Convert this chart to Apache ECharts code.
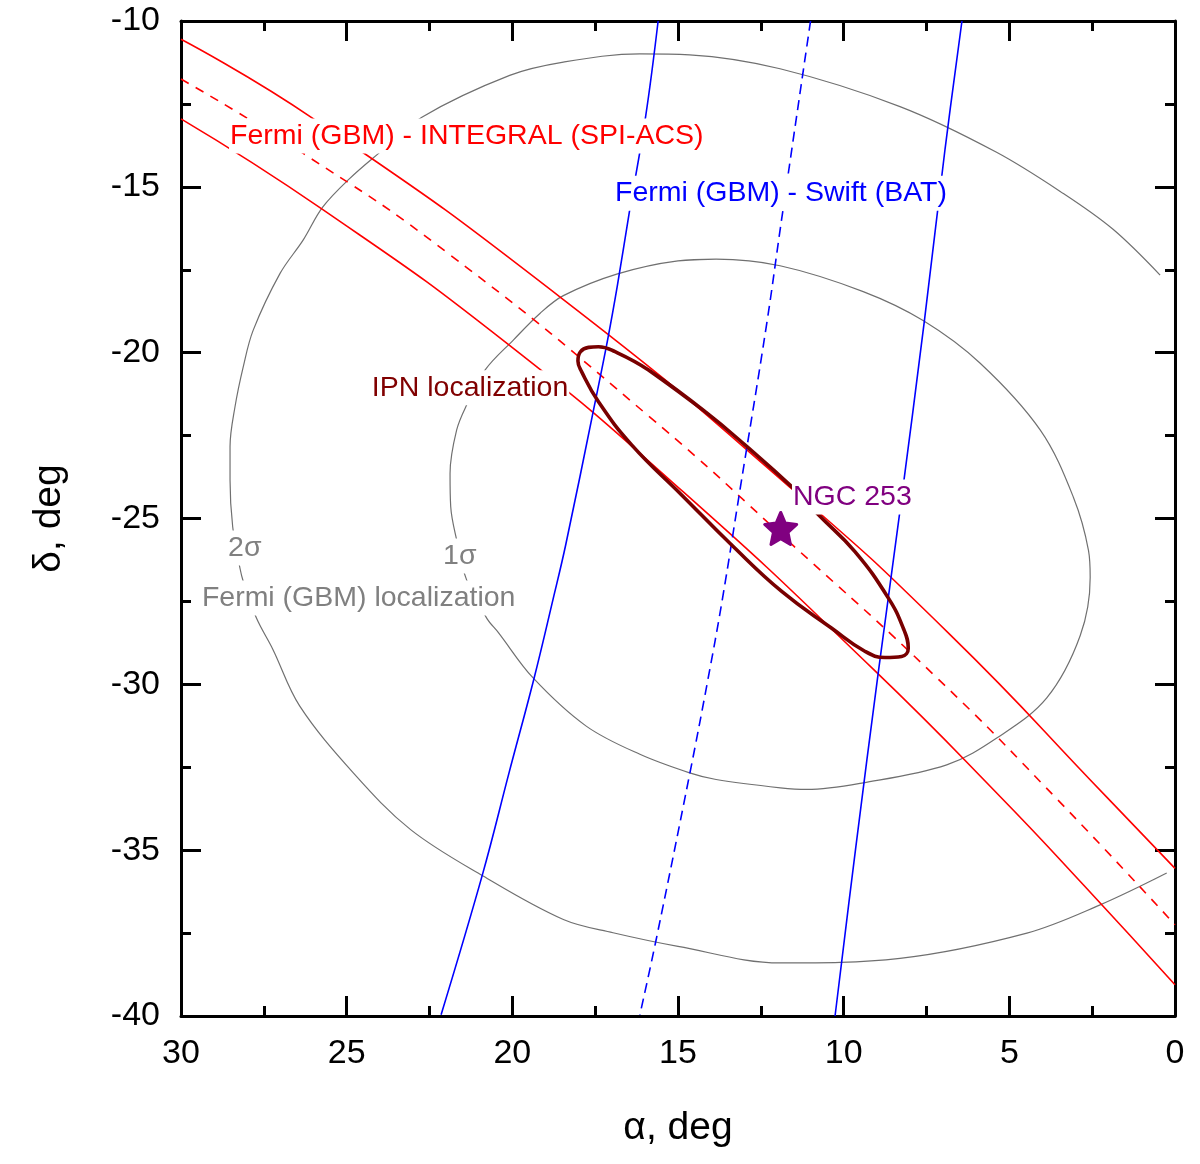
<!DOCTYPE html>
<html lang="en" style="height: 100%">
<head>
<meta charset="utf-8">
<title>IPN localization of GRB near NGC 253</title>
</head>
<body style="height: 100%; margin: 0; background: #fff">
<div id="container" style="height: 100%"></div>

<script type="text/javascript" src="https://cdn.jsdelivr.net/npm/echarts/dist/echarts.min.js"></script>

<script type="text/javascript">
var dom = document.getElementById('container');
var myChart = echarts.init(dom);

// all points are [alpha, delta] in degrees
var integralUpper = [[30, -10.55], [26.0, -12.95], [18.46, -18.4], [11.62, -24.06], [6.79, -28.5],
  [2.06, -33.4], [0, -35.55]];
var integralCenter = [[30, -11.75], [26.3, -14.0], [21.92, -17.02], [15.84, -21.95], [11.52, -25.82],
  [7.19, -29.8], [3.57, -33.45], [0, -37.25]];
var integralLower = [[30, -12.95], [25.73, -15.68], [20.19, -19.7], [14.84, -24.2], [9.1, -29.55],
  [5.28, -33.38], [2.76, -36.05], [0, -39.06]];

var swiftLeft = [[15.6, -10], [15.98, -12.9], [16.47, -15.77], [16.83, -17.98], [17.12, -19.59],
  [17.54, -21.68], [18.39, -25.8], [18.77, -27.43], [19.34, -29.8], [20.1, -32.67], [20.9, -35.73],
  [22.15, -39.96]];
var swiftCenter = [[11.0, -10], [11.9, -16.17], [12.32, -19.11], [13.13, -24.14], [13.66, -27.43],
  [14.1, -29.87], [14.64, -32.67], [15.66, -37.7], [16.15, -39.96]];
var swiftRight = [[6.43, -10], [6.94, -13.86], [7.56, -19.01], [8.3, -24.76], [8.95, -29.6],
  [9.64, -34.96], [10.26, -40]];

var gbm1sigma = [[13.85, -17.18], [15.0, -17.23], [16.85, -17.63], [18.46, -18.28], [19.16, -18.81],
  [19.97, -19.62], [20.82, -20.52], [21.38, -21.58], [21.68, -22.33], [21.88, -23.64], [21.86, -24.64],
  [21.68, -25.65], [21.38, -26.85], [20.77, -28.01], [20.42, -28.44], [19.38, -29.8], [17.77, -31.26],
  [16.15, -32.11], [14.65, -32.67], [13.85, -32.87], [11.91, -33.12], [11.11, -33.17], [9.41, -32.97],
  [6.89, -32.43], [5.38, -31.62], [3.87, -30.41], [2.86, -28.53], [2.56, -26.78], [2.61, -25.97],
  [3.07, -24.35], [4.07, -22.33], [5.88, -20.32], [7.59, -19.04], [9.41, -18.16], [11.92, -17.38],
  [13.85, -17.18], [15.0, -17.23]];
var gbm2sigma = [[0.45, -17.66], [1.87, -16.28], [3.37, -15.2], [5.4, -13.95], [8.3, -12.58],
  [11.92, -11.44], [14.65, -11.02], [16.15, -10.99], [18.46, -11.24], [20.08, -11.64], [22.73, -12.9],
  [24.0, -13.96], [24.92, -14.76], [25.73, -15.62], [26.31, -16.6], [27.01, -17.61], [27.82, -19.32],
  [28.12, -20.42], [28.37, -21.63], [28.52, -22.83], [28.52, -23.84], [28.44, -25.25], [28.22, -26.5],
  [28.12, -26.9], [27.72, -28.01], [27.23, -28.94], [26.42, -30.65], [24.8, -32.67], [23.07, -34.38],
  [20.88, -35.78], [18.46, -37.09], [16.96, -37.49], [15.0, -37.9], [11.91, -38.4], [8.3, -38.26],
  [4.47, -37.5], [2.26, -36.65], [0.25, -35.69]];

// IPN ellipse traced once round, with a little overlap so the join is smooth
var ipnEllipse = [[15.89, -20.52], [14.18, -21.78], [12.98, -22.78], [11.57, -24.04], [10.76, -24.89],
  [9.66, -26.0], [8.65, -27.4], [8.2, -28.31], [8.05, -28.91], [8.25, -29.16], [8.75, -29.19],
  [9.35, -29.01], [10.36, -28.31], [11.87, -27.2], [13.38, -25.8], [14.89, -24.29], [16.4, -22.78],
  [17.4, -21.48], [17.91, -20.57], [18.02, -20.25], [17.95, -19.98], [17.7, -19.84], [17.4, -19.82],
  [16.9, -19.97], [15.89, -20.52], [14.18, -21.78]];

var ngc253 = [[11.9, -25.3]];

var noteText = ['Fermi (GBM) - INTEGRAL (SPI-ACS)', 'Fermi (GBM) - Swift (BAT)', 'IPN localization',
  'NGC 253', '2σ', '1σ', 'Fermi (GBM) localization'];
var noteAt = [[28.55, -13.47], [16.93, -15.19], [24.27, -21.06], [11.56, -24.35], [28.61, -25.89],
  [22.12, -26.13], [29.4, -27.4]];

var font = 'Liberation Sans';
var noteColor = ['#ff0000', '#0000ff', '#800000', '#800080', '#808080', '#808080', '#808080'];

function curve(data, color, width, type, smooth, z) {
  return {
    type: 'line',
    data: data,
    showSymbol: false,
    smooth: smooth,
    silent: true,
    z: z,
    lineStyle: {color: color, width: width, type: type, opacity: 1}
  };
}

function frameAxis(extra) {
  var ax = {
    type: 'value',
    splitLine: {show: false},
    axisLine: {show: true, onZero: false, lineStyle: {color: '#000', width: 3}},
    axisTick: {show: true, inside: true, length: 20, lineStyle: {color: '#000', width: 3}},
    minorTick: {show: true, splitNumber: 2, length: 10, lineStyle: {color: '#000', width: 3}},
    axisLabel: {show: false}
  };
  for (var k in extra) ax[k] = extra[k];
  return ax;
}

var tickLabel = {show: true, color: '#000', fontSize: 34, fontFamily: font, margin: 21};
var axisName = {color: '#000', fontSize: 39, fontFamily: font};

var option = {
  animation: false,
  backgroundColor: '#fff',
  grid: {left: 181, right: 25, top: 21, bottom: 148},
  xAxis: [
    frameAxis({min: 0, max: 30, interval: 5, inverse: true, position: 'bottom', axisLabel: tickLabel,
      name: 'α, deg', nameLocation: 'middle', nameGap: 93, nameTextStyle: axisName}),
    frameAxis({min: 0, max: 30, interval: 5, inverse: true, position: 'top'})
  ],
  yAxis: [
    frameAxis({min: -40, max: -10, interval: 5, position: 'left', axisLabel: tickLabel,
      name: 'δ, deg', nameLocation: 'middle', nameGap: 112, nameRotate: 90, nameTextStyle: axisName}),
    frameAxis({min: -40, max: -10, interval: 5, position: 'right'})
  ],
  series: [
    curve(gbm2sigma, '#707070', 1.2, 'solid', 0.35, 2),
    curve(gbm1sigma, '#707070', 1.2, 'solid', 0.35, 2),
    curve(integralUpper, '#ff0000', 1.6, 'solid', 0.5, 3),
    curve(integralCenter, '#ff0000', 1.6, [9, 8], 0.5, 3),
    curve(integralLower, '#ff0000', 1.6, 'solid', 0.5, 3),
    curve(swiftLeft, '#0000ff', 1.6, 'solid', 0.4, 3),
    curve(swiftCenter, '#0000ff', 1.6, [10, 6], 0.4, 3),
    curve(swiftRight, '#0000ff', 1.6, 'solid', 0.4, 3),
    curve(ipnEllipse, '#780000', 3.6, 'solid', 0.45, 4),
    {
      type: 'scatter',
      data: ngc253,
      symbol: 'path://M50,4 L63,33 L96,37 L71,59 L78,92 L50,76 L22,92 L29,59 L4,37 L37,33 Z',
      symbolSize: 32,
      silent: true,
      z: 6,
      itemStyle: {color: '#800080', opacity: 1, borderColor: '#800080', borderWidth: 3, borderJoin: 'round'}
    },
    {
      type: 'scatter',
      symbolSize: 0,
      silent: true,
      z: 8,
      itemStyle: {opacity: 1},
      data: noteText.map(function (t, i) {
        return {
          value: noteAt[i],
          name: t,
          label: {color: noteColor[i]}
        };
      }),
      label: {
        show: true,
        position: 'right',
        distance: 0,
        formatter: '{b}',
        fontSize: 28.5,
        fontFamily: font,
        opacity: 1,
        backgroundColor: '#fff',
        padding: [3, 1, 3, 1]
      }
    }
  ]
};

myChart.setOption(option);
window.addEventListener('resize', myChart.resize);
</script>
</body>
</html>
